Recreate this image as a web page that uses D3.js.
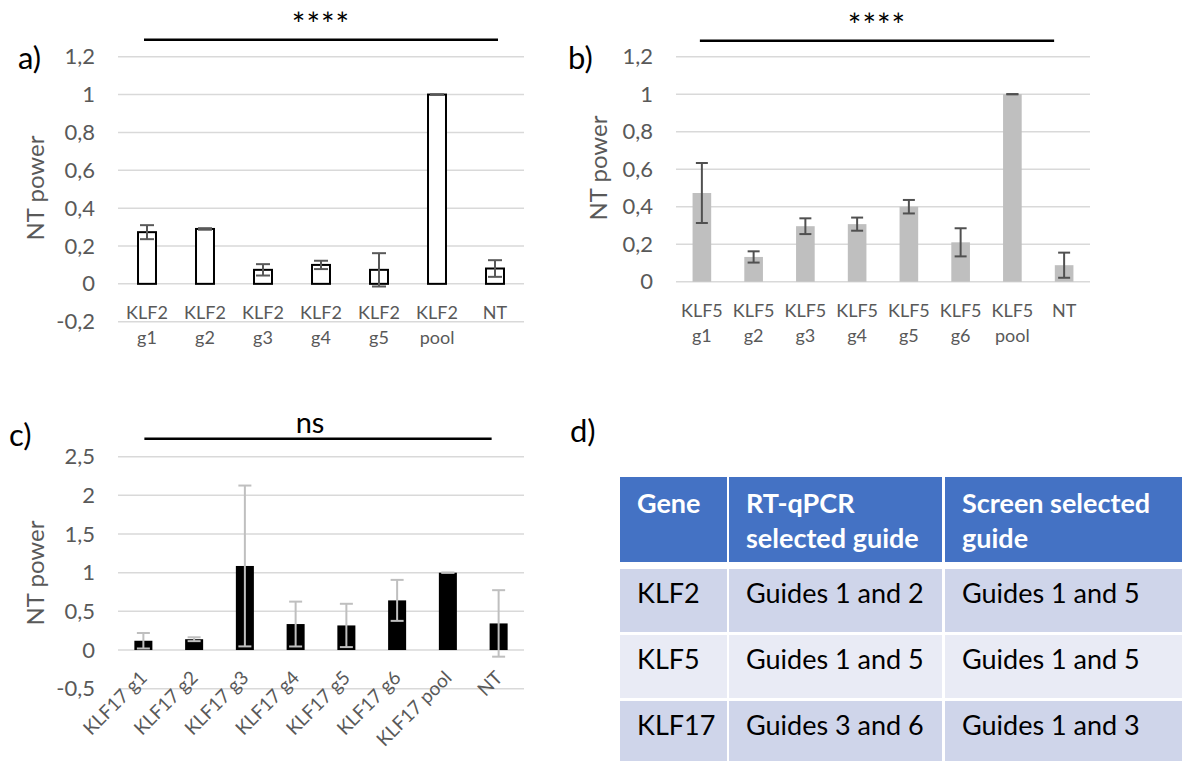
<!DOCTYPE html>
<html>
<head>
<meta charset="utf-8">
<script src="https://cdn.jsdelivr.net/npm/d3@7"></script>
<style>
  body { margin: 0; background: #fff; }
  svg { display: block; font-family: Lato, "Open Sans", sans-serif; }
</style>
</head>
<body>
<svg id="fig" width="1188" height="761"></svg>
<script>
// a) KLF2 guides
const klf2_categories = ['KLF2 g1', 'KLF2 g2', 'KLF2 g3', 'KLF2 g4', 'KLF2 g5', 'KLF2 pool', 'NT'];
const klf2_values = [0.273, 0.29, 0.074, 0.10, 0.074, 1.0, 0.081];
const klf2_errors = [0.037, 0.004, 0.03, 0.022, 0.088, 0, 0.044];
const klf2_ticks = [-0.2, 0, 0.2, 0.4, 0.6, 0.8, 1, 1.2];

// b) KLF5 guides
const klf5_categories = ['KLF5 g1', 'KLF5 g2', 'KLF5 g3', 'KLF5 g4', 'KLF5 g5', 'KLF5 g6', 'KLF5 pool', 'NT'];
const klf5_values = [0.473, 0.132, 0.296, 0.307, 0.40, 0.21, 1.0, 0.088];
const klf5_errors = [0.16, 0.03, 0.042, 0.035, 0.036, 0.075, 0, 0.067];
const klf5_ticks = [0, 0.2, 0.4, 0.6, 0.8, 1, 1.2];

// c) KLF17 guides
const klf17_categories = ['KLF17 g1', 'KLF17 g2', 'KLF17 g3', 'KLF17 g4', 'KLF17 g5', 'KLF17 g6', 'KLF17 pool', 'NT'];
const klf17_values = [0.12, 0.14, 1.087, 0.336, 0.318, 0.642, 1.0, 0.344];
const klf17_errors = [0.1, 0.025, 1.04, 0.29, 0.28, 0.265, 0, 0.43];
const klf17_ticks = [-0.5, 0, 0.5, 1, 1.5, 2, 2.5];

// d) selected guides table
const table_header = [['Gene'], ['RT-qPCR', 'selected guide'], ['Screen selected', 'guide']];
const table_genes = ['KLF2', 'KLF5', 'KLF17'];
const table_rtqpcr = ['Guides 1 and 2', 'Guides 1 and 5', 'Guides 3 and 6'];
const table_screen = ['Guides 1 and 5', 'Guides 1 and 5', 'Guides 1 and 3'];

const fmt = d3.formatLocale({decimal: ',', thousands: ' ', grouping: [3], currency: ['', ''], minus: '-'}).format('~g');
const svg = d3.select('#fig');

function bar_chart(opt) {
  const g = svg.append('g');
  const y = d3.scaleLinear().domain(opt.domain).range([opt.bottom, opt.top]);
  const x = d3.scaleBand().domain(opt.categories)
    .range([opt.left, opt.right])
    .paddingInner(opt.pad).paddingOuter(opt.pad / 2);
  const cx = (c) => x(c) + x.bandwidth() / 2;
  const data = opt.categories.map((c, i) => ({c, v: opt.values[i], e: opt.errors[i]}));

  g.selectAll('.grid')
    .data(opt.ticks)
    .enter()
    .append('line')
    .attr('x1', opt.left).attr('x2', opt.right)
    .attr('y1', (d) => y(d)).attr('y2', (d) => y(d))
    .attr('stroke', '#d9d9d9')
    .attr('stroke-width', 1.5);

  const axis = g.append('g')
    .attr('transform', `translate(${opt.left - 23},0)`)
    .call(d3.axisLeft(y).tickValues(opt.ticks).tickFormat(fmt).tickSize(0).tickPadding(0));
  axis.select('.domain').remove();
  axis.selectAll('text')
    .attr('font-family', 'Lato, sans-serif')
    .attr('font-size', 22)
    .attr('fill', '#595959');

  g.append('text')
    .attr('transform', `translate(${opt.title_x},${opt.title_y}) rotate(-90)`)
    .attr('text-anchor', 'middle')
    .attr('font-size', 24)
    .attr('fill', '#595959')
    .text('NT power');

  g.selectAll('.bar')
    .data(data)
    .enter()
    .append('rect')
    .attr('x', (d) => x(d.c))
    .attr('width', x.bandwidth())
    .attr('y', (d) => y(Math.max(0, d.v)))
    .attr('height', (d) => Math.abs(y(d.v) - y(0)))
    .attr('fill', opt.fill)
    .attr('stroke', opt.stroke || 'none')
    .attr('stroke-width', 2);

  const err = g.selectAll('.err')
    .data(data)
    .enter()
    .append('g')
    .attr('stroke', opt.err_color)
    .attr('stroke-width', 2);
  err.append('line')
    .attr('x1', (d) => cx(d.c)).attr('x2', (d) => cx(d.c))
    .attr('y1', (d) => y(d.v - d.e)).attr('y2', (d) => y(d.v + d.e));
  [1, -1].forEach((s) => {
    err.append('line')
      .attr('x1', (d) => cx(d.c) - opt.cap / 2).attr('x2', (d) => cx(d.c) + opt.cap / 2)
      .attr('y1', (d) => y(d.v + s * d.e)).attr('y2', (d) => y(d.v + s * d.e));
  });

  // category labels
  if (opt.rotate) {
    g.selectAll('.xlab')
      .data(opt.categories)
      .enter()
      .append('text')
      .attr('transform', (d) => `translate(${cx(d) + 5},${y(0) + 29}) rotate(-45)`)
      .attr('text-anchor', 'end')
      .attr('font-size', 19)
      .attr('fill', '#595959')
      .text((d) => d);
  } else {
    const lab = g.selectAll('.xlab')
      .data(opt.categories)
      .enter()
      .append('text')
      .attr('text-anchor', 'middle')
      .attr('font-size', 18)
      .attr('fill', '#595959');
    lab.each(function(d) {
      d.split(' ').forEach((part, i) => {
        d3.select(this).append('tspan')
          .attr('x', cx(d))
          .attr('y', y(0) + 35 + i * 25)
          .text(part);
      });
    });
  }

  // significance bar
  const first = opt.categories[0];
  const last = opt.categories[opt.categories.length - 1];
  const x1 = cx(first) + opt.sig_pad[0];
  const x2 = cx(last) + opt.sig_pad[1];
  g.append('line')
    .attr('x1', x1).attr('x2', x2)
    .attr('y1', opt.top - opt.sig_gap).attr('y2', opt.top - opt.sig_gap)
    .attr('stroke', '#000')
    .attr('stroke-width', 2.5);
  g.append('text')
    .attr('x', (x1 + x2) / 2 + (opt.sig_dx || 0))
    .attr('y', opt.sig_y)
    .attr('text-anchor', 'middle')
    .attr('font-size', opt.sig_size)
    .attr('letter-spacing', opt.sig_spacing || 0)
    .attr('fill', '#000')
    .text(opt.sig);

  g.append('text')
    .attr('x', opt.letter_x).attr('y', opt.letter_y)
    .attr('font-size', 31)
    .attr('fill', '#000')
    .text(opt.letter);
}

bar_chart({
  categories: klf2_categories, values: klf2_values, errors: klf2_errors, ticks: klf2_ticks,
  domain: [-0.2, 1.2], top: 56.7, bottom: 321.7, left: 118, right: 524, pad: 0.69,
  fill: '#fff', stroke: '#000', err_color: '#595959', cap: 14,
  title_x: 44, title_y: 188,
  sig: '****', sig_pad: [-3, 3], sig_gap: 17, sig_y: 36, sig_size: 32, sig_spacing: 1,
  letter: 'a)', letter_x: 18, letter_y: 69
});

bar_chart({
  categories: klf5_categories, values: klf5_values, errors: klf5_errors, ticks: klf5_ticks,
  domain: [0, 1.2], top: 56.7, bottom: 281.7, left: 676, right: 1090, pad: 0.64,
  fill: '#bfbfbf', err_color: '#505050', cap: 12,
  title_x: 607, title_y: 168,
  sig: '****', sig_pad: [-2, -10], sig_gap: 16, sig_y: 37, sig_size: 32, sig_spacing: 1,
  letter: 'b)', letter_x: 568, letter_y: 69
});

bar_chart({
  categories: klf17_categories, values: klf17_values, errors: klf17_errors, ticks: klf17_ticks,
  domain: [-0.5, 2.5], top: 456.7, bottom: 688.7, left: 118, right: 524, pad: 0.645,
  fill: '#000', err_color: '#bfbfbf', cap: 13, rotate: true,
  title_x: 44, title_y: 573,
  sig: 'ns', sig_pad: [1, -7], sig_gap: 18, sig_y: 433, sig_size: 29, sig_dx: -8,
  letter: 'c)', letter_x: 9, letter_y: 446
});

// d) table
svg.append('text')
  .attr('x', 570).attr('y', 442)
  .attr('font-size', 31)
  .attr('fill', '#000')
  .text('d)');

const col_x = [620, 729, 945];
const col_w = [107, 213, 237];
const header_y = 477, header_h = 85;
const row_y0 = 569, row_h = 63, row_gap = 3;
const row_fill = ['#cfd5ea', '#e9ebf5', '#cfd5ea'];

const table = svg.append('g').attr('font-size', 27);
const head = table.selectAll('.head')
  .data(table_header)
  .enter()
  .append('g');
head.append('rect')
  .attr('x', (d, i) => col_x[i]).attr('y', header_y)
  .attr('width', (d, i) => col_w[i]).attr('height', header_h)
  .attr('fill', '#4472c4');
head.append('text')
  .attr('font-weight', 700)
  .attr('fill', '#fff')
  .each(function(d, i) {
    d.forEach((line, j) => {
      d3.select(this).append('tspan')
        .attr('x', col_x[i] + 17)
        .attr('y', 513 + j * 35)
        .text(line);
    });
  });

const rows = table_genes.map((g, i) => [g, table_rtqpcr[i], table_screen[i]]);
const row = table.selectAll('.row')
  .data(rows)
  .enter()
  .append('g')
  .attr('transform', (d, i) => `translate(0,${row_y0 + i * (row_h + row_gap)})`);
row.each(function(d, r) {
  const sel = d3.select(this);
  d.forEach((cell, i) => {
    sel.append('rect')
      .attr('x', col_x[i]).attr('y', 0)
      .attr('width', col_w[i]).attr('height', row_h)
      .attr('fill', row_fill[r]);
    sel.append('text')
      .attr('x', col_x[i] + 17).attr('y', 34)
      .attr('fill', '#000')
      .text(cell);
  });
});
</script>
</body>
</html>
